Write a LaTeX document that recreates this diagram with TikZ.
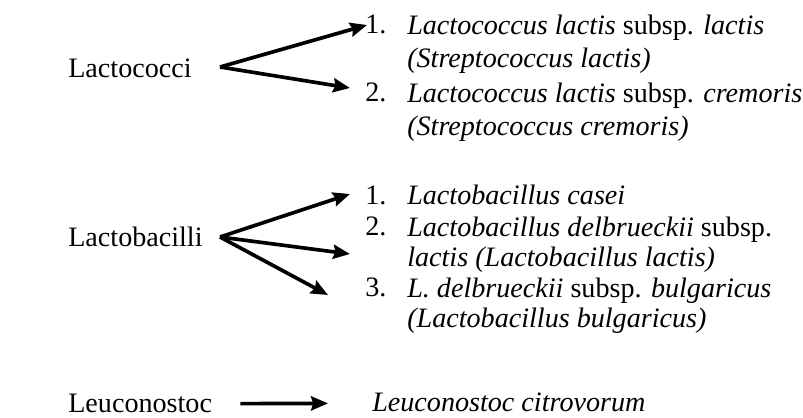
\documentclass[tikz,border=0pt]{standalone}
\usepackage{fontspec}
\setmainfont{Liberation Serif}
\usepackage{tikz}
\usetikzlibrary{arrows.meta}

\begin{document}
\begin{tikzpicture}[x=0.025cm,y=-0.025cm,
	every node/.style={inner sep=0pt,anchor=base west,font=\fontsize{20}{24}\selectfont},
	item/.style={align=left},
	tight/.style={font=\fontsize{20}{22}\selectfont},
	arr/.style={line width=2.6pt,-{Stealth[length=12pt,width=10pt,inset=1.5pt]}}]
	\useasboundingbox (0,0) rectangle (803,418);

	\node (g1) at (68,78) {Lactococci};
	\node (g2) at (68,247) {Lactobacilli};
	\node (g3) at (68,413) {Leuconostoc};

	\node (n11) at (365,34) {1.};
	\node[item] (t11) at (407,68) {\textit{Lactococcus lactis} subsp. \textit{lactis}\\\textit{(Streptococcus lactis)}};
	\node (n12) at (365,102) {2.};
	\node[item] (t12) at (407,136) {\textit{Lactococcus lactis} subsp. \textit{cremoris}\\\textit{(Streptococcus cremoris)}};

	\node (n21) at (365,205) {1.};
	\node[item] (t21) at (407,205) {\textit{Lactobacillus casei}};
	\node (n22) at (365,236) {2.};
	\node[item,tight] (t22) at (407,267) {\textit{Lactobacillus delbrueckii} subsp.\\\textit{lactis (Lactobacillus lactis)}};
	\node (n23) at (365,297) {3.};
	\node[item,tight] (t23) at (407,328) {\textit{L. delbrueckii} subsp. \textit{bulgaricus}\\\textit{(Lactobacillus bulgaricus)}};

	\node (t31) at (372,412) {\textit{Leuconostoc citrovorum}};

	\coordinate (f1) at (220,67);
	\coordinate (e11) at (367,25);
	\coordinate (e12) at (350,88);
	\coordinate (f2) at (220,237);
	\coordinate (e21) at (350,194);
	\coordinate (e22) at (350,254);
	\coordinate (e23) at (328,295);

	\draw[arr] (f1) -- (e11);
	\draw[arr] (f1) -- (e12);
	\draw[arr] (f2) -- (e21);
	\draw[arr] (f2) -- (e22);
	\draw[arr] (f2) -- (e23);
	\draw[arr,shorten <=0.7cm,shorten >=1.1cm] (g3) -- (t31);

\end{tikzpicture}
\end{document}
